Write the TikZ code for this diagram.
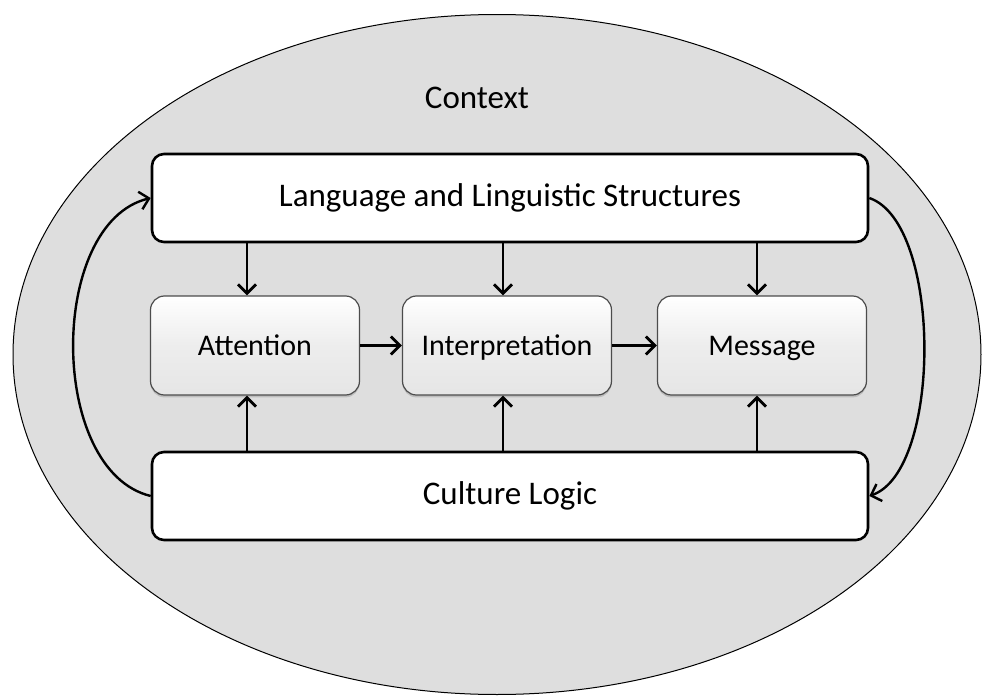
\documentclass[tikz,border=0pt]{standalone}
\usepackage{fontspec}
\setmainfont{Carlito}
\usetikzlibrary{arrows.meta,shadows}

\begin{document}
\begin{tikzpicture}[x=0.5pt,y=-0.5pt,
  font=\fontsize{16.5}{19}\selectfont,
  layer/.style={draw,line width=1.3pt,fill=white,rounded corners=6pt,
    minimum width=358pt,minimum height=44pt},
  stage/.style={draw=black!70,line width=0.6pt,rounded corners=7pt,
    top color=white,bottom color=black!10,middle color=black!7,
    font=\fontsize{15}{18}\selectfont,
    minimum width=104.5pt,minimum height=49.5pt,
    text height=2.2ex,text depth=0.1ex,
    drop shadow={shadow xshift=0pt,shadow yshift=-1.2pt,opacity=0.35}},
  flow/.style={line width=1.4pt,-{Straight Barb[length=4.5pt,width=9pt]}},
  loop/.style={line width=1.2pt,-{Straight Barb[length=4.5pt,width=9pt]}}]
  \useasboundingbox (0,0) rectangle (982,696);
  % context
  \draw[fill=black!13,line width=0.5pt] (497,354.5) ellipse [x radius=484,y radius=340];
  \node (ctx) at (477,98) {Context};
  % layers and stages
  \node[layer] (lang) at (510,198) {Language and Linguistic Structures};
  \node[layer] (cult) at (510,496) {Culture Logic};
  \node[stage] (att) at (255,345.5) {Attention};
  \node[stage] (intp) at (507,345.5) {Interpretation};
  \node[stage] (msg) at (762,345.5) {Message};
  % top-down and bottom-up
  \foreach \n/\x in {att/247,intp/503,msg/757} {
    \draw[flow] (\x,242) -- (\n.north -| \x,0);
    \draw[flow] (\x,451) -- (\n.south -| \x,0);
  }
  \draw[flow] (att) -- (intp);
  \draw[flow] (intp) -- (msg);
  % feedback loops
  \draw[loop] (cult.west) .. controls +(-103,-25) and +(-103,25) .. (lang.west);
  \draw[loop] (lang.east) .. controls +(73,25) and +(73,-25) .. (cult.east);
\end{tikzpicture}
\end{document}
